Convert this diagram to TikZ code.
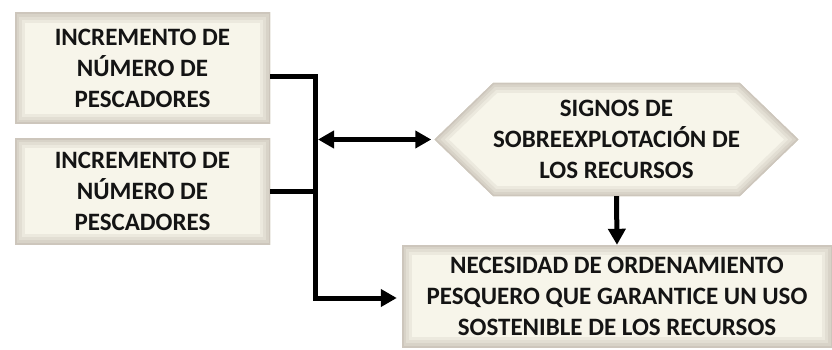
\documentclass[tikz,border=0pt]{standalone}
\usepackage{fontspec}
\setmainfont{Carlito}
\usetikzlibrary{arrows.meta,shapes.symbols,positioning}

\definecolor{panelcream}{HTML}{F7F5EA}
\definecolor{panelframe}{HTML}{C6BEB4}

\tikzset{
  panel/.style={rectangle, fill=panelcream, align=center, inner sep=0pt,
    font=\bfseries\fontsize{25}{31}\selectfont, text=black!92},
  boxframe/.style={path picture={
    \foreach \w/\c in {20/22, 14/42, 8/62, 3/85}
      \draw[line width=\w pt, panelframe!\c!panelcream]
        (path picture bounding box.south west) rectangle (path picture bounding box.north east);}},
  hexframe/.style={path picture={
    \foreach \w/\c in {20/22, 14/42, 8/62, 3/85}
      \draw[line width=\w pt, panelframe!\c!panelcream, line join=miter]
        (path picture bounding box.west)
        -- ([xshift=58.5pt]path picture bounding box.north west)
        -- ([xshift=-58.5pt]path picture bounding box.north east)
        -- (path picture bounding box.east)
        -- ([xshift=-58.5pt]path picture bounding box.south east)
        -- ([xshift=58.5pt]path picture bounding box.south west) -- cycle;}},
  link/.style={line width=5pt, >={Triangle[length=16pt,width=17pt]}}
}

\begin{document}
\begin{tikzpicture}[x=1pt,y=-1pt]
\useasboundingbox (0,0) rectangle (832,350);

  % cajas
  \node[panel, boxframe, minimum width=255pt, minimum height=111pt] (inc1) at (142.5,68.5)
    {INCREMENTO DE\\NÚMERO DE\\PESCADORES};
  \node[panel, boxframe, minimum width=255pt, minimum height=106pt] (inc2) at (142.5,191)
    {INCREMENTO DE\\NÚMERO DE\\PESCADORES};
  \node[panel, hexframe, signal, signal to=west and east, signal pointer angle=88,
    minimum width=353pt, minimum height=113pt] (signos) at (616.5,139.5)
    {SIGNOS DE\\SOBREEXPLOTACIÓN DE\\LOS RECURSOS};
  \node[panel, boxframe, minimum width=430pt, minimum height=102pt] (necesidad) at (617,296)
    {NECESIDAD DE ORDENAMIENTO\\PESQUERO QUE GARANTICE UN USO\\SOSTENIBLE DE LOS RECURSOS};

  \coordinate (bend) at (315.5,298);

  % conectores
  \draw[link,->,shorten >=5pt] ([yshift=-8.5pt]inc1.east) -| (bend) -- (necesidad.west |- bend);
  \draw[link] (inc2.east) -- (inc2.east -| bend);
  \draw[link,<->,shorten <=2.5pt,shorten >=3pt] (signos.west -| bend) -- (signos.west);
  \draw[link,->] (signos.south) -- (necesidad.north);
\end{tikzpicture}
\end{document}
